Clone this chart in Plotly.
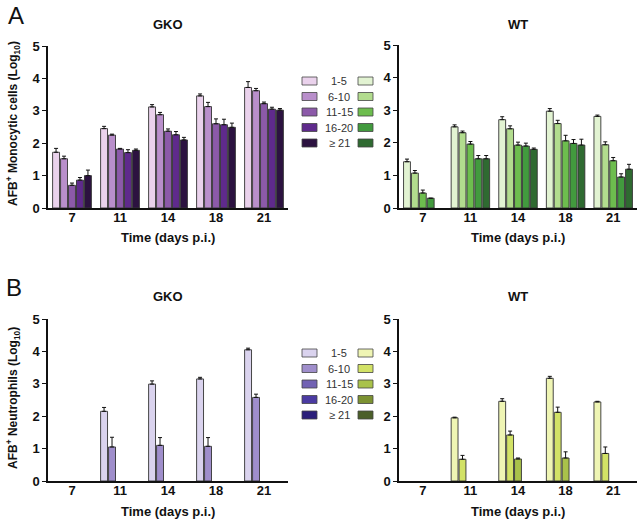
import plotly.graph_objects as go

# Categories and groups
days = ["7", "11", "14", "18", "21"]
groups = ["1-5", "6-10", "11-15", "16-20", "≥ 21"]

# Panel A: AFB+ monocytic cells (Log10)
a_gko = {
    "1-5":   [1.72, 2.45, 3.12, 3.46, 3.72],
    "6-10":  [1.52, 2.25, 2.88, 3.13, 3.62],
    "11-15": [0.70, 1.82, 2.37, 2.60, 3.22],
    "16-20": [0.86, 1.71, 2.26, 2.57, 3.05],
    "≥ 21":  [1.00, 1.78, 2.10, 2.49, 3.02],
}
a_gko_err = {
    "1-5":   [0.12, 0.07, 0.07, 0.06, 0.18],
    "6-10":  [0.08, 0.03, 0.07, 0.13, 0.07],
    "11-15": [0.07, 0.02, 0.07, 0.15, 0.05],
    "16-20": [0.08, 0.09, 0.10, 0.17, 0.06],
    "≥ 21":  [0.17, 0.04, 0.08, 0.13, 0.05],
}
a_wt = {
    "1-5":   [1.42, 2.49, 2.71, 2.97, 2.81],
    "6-10":  [1.07, 2.31, 2.43, 2.59, 1.94],
    "11-15": [0.46, 1.96, 1.93, 2.06, 1.45],
    "16-20": [0.30, 1.51, 1.90, 1.98, 0.95],
    "≥ 21":  [None, 1.51, 1.80, 1.93, 1.19],
}
a_wt_err = {
    "1-5":   [0.08, 0.06, 0.09, 0.08, 0.04],
    "6-10":  [0.08, 0.05, 0.09, 0.10, 0.09],
    "11-15": [0.09, 0.08, 0.09, 0.17, 0.10],
    "16-20": [0.00, 0.10, 0.09, 0.12, 0.10],
    "≥ 21":  [0.00, 0.10, 0.04, 0.18, 0.15],
}

# Panel B: AFB+ neutrophils (Log10)
b_gko = {
    "1-5":   [None, 2.15, 2.99, 3.15, 4.05],
    "6-10":  [None, 1.05, 1.10, 1.07, 2.58],
    "11-15": [None, None, None, None, None],
    "16-20": [None, None, None, None, None],
    "≥ 21":  [None, None, None, None, None],
}
b_gko_err = {
    "1-5":   [0, 0.12, 0.10, 0.05, 0.05],
    "6-10":  [0, 0.30, 0.24, 0.27, 0.10],
    "11-15": [0, 0, 0, 0, 0],
    "16-20": [0, 0, 0, 0, 0],
    "≥ 21":  [0, 0, 0, 0, 0],
}
b_wt = {
    "1-5":   [None, 1.95, 2.46, 3.17, 2.44],
    "6-10":  [None, 0.67, 1.42, 2.12, 0.85],
    "11-15": [None, None, 0.68, 0.71, None],
    "16-20": [None, None, None, None, None],
    "≥ 21":  [None, None, None, None, None],
}
b_wt_err = {
    "1-5":   [0, 0.02, 0.08, 0.06, 0.02],
    "6-10":  [0, 0.12, 0.12, 0.16, 0.20],
    "11-15": [0, 0, 0.03, 0.19, 0],
    "16-20": [0, 0, 0, 0, 0],
    "≥ 21":  [0, 0, 0, 0, 0],
}

purple_a = ["#ead2ec", "#b98fcb", "#8c5aa9", "#5f2a8c", "#2c1240"]
green_a = ["#e2f3d2", "#b2dc8e", "#6dbd4e", "#429a3e", "#2f6a31"]
purple_b = ["#dad3ee", "#9f8ecb", "#7262b3", "#4b3ba2", "#2b1f7a"]
green_b = ["#eff5b4", "#d2e266", "#a9c24a", "#7c9232", "#4b5f29"]

W, H = 642, 523
FONT = "Arial, Liberation Sans, sans-serif"
INK = "#111111"


def px_x(v):
    return v / W


def px_y(v):
    return 1 - v / H


fig = go.Figure()

panels = [
    (a_gko, a_gko_err, purple_a, "x", "y"),
    (a_wt, a_wt_err, green_a, "x2", "y2"),
    (b_gko, b_gko_err, purple_b, "x3", "y3"),
    (b_wt, b_wt_err, green_b, "x4", "y4"),
]
for vals, errs, colors, xa, ya in panels:
    for g, c in zip(groups, colors):
        fig.add_trace(go.Bar(
            x=days, y=vals[g], name=g, xaxis=xa, yaxis=ya, showlegend=False,
            marker=dict(color=c, line=dict(color="#333333", width=0.9)),
            error_y=dict(type="data", array=errs[g], arrayminus=[0] * len(days),
                         symmetric=False, color=INK, thickness=1, width=2),
        ))

# axis domains (pixel-measured)
doms = {
    "": ((48, 288), (208, 46)),
    "2": ((399, 637), (208, 45)),
    "3": ((48, 288), (481, 319)),
    "4": ((399, 637), (481, 319)),
}
layout_axes = {}
for k, ((x0, x1), (yb, yt)) in doms.items():
    layout_axes["xaxis" + k] = dict(
        domain=[px_x(x0), px_x(x1)], type="category", categoryorder="array",
        categoryarray=days, range=[-0.5, 4.5], showline=True, linecolor=INK,
        linewidth=1.5, ticks="", ticklen=0, ticklabelstandoff=-3,
        showgrid=False, zeroline=False,
        tickfont=dict(family=FONT, size=13, color=INK, weight="bold"),
        anchor="y" + k, fixedrange=True,
    )
    layout_axes["yaxis" + k] = dict(
        domain=[px_y(yb), px_y(yt)], range=[0, 5], tickvals=[0, 1, 2, 3, 4, 5],
        showline=True, linecolor=INK, linewidth=1.5, ticks="outside", ticklen=4,
        tickwidth=1.2, tickcolor=INK, showgrid=False, zeroline=False,
        tickfont=dict(family=FONT, size=13, color=INK, weight="bold"),
        anchor="x" + k, fixedrange=True,
    )

fig.update_layout(
    template="none",
    width=W, height=H, margin=dict(l=0, r=0, t=0, b=0),
    paper_bgcolor="white", plot_bgcolor="white",
    barmode="group", bargap=0.17, bargroupgap=0.13,
    font=dict(family=FONT, color=INK),
    **layout_axes,
)

annotations = []


def text(x, y, s, size=13, bold=True, angle=0, color=INK, xanchor="center"):
    annotations.append(dict(
        x=px_x(x), y=px_y(y), xref="paper", yref="paper", text=s, showarrow=False,
        textangle=angle, xanchor=xanchor, yanchor="middle",
        font=dict(family=FONT, size=size, color=color, weight="bold" if bold else "normal"),
    ))


text(16, 16, "A", size=24, bold=False)
text(14, 287, "B", size=24, bold=False)
text(168, 24, "GKO")
text(518, 24, "WT")
text(168, 296, "GKO")
text(518, 296, "WT")
text(168, 238, "Time (days p.i.)")
text(518, 238, "Time (days p.i.)")
text(168, 511, "Time (days p.i.)")
text(518, 511, "Time (days p.i.)")
text(13, 124, "AFB<sup>+</sup> Monocytic cells (Log<sub>10</sub>)", size=12, angle=-90)
text(13, 398, "AFB<sup>+</sup> Neutrophils (Log<sub>10</sub>)", size=12, angle=-90)

# legends: two swatch columns sharing centred labels
shapes = []
for rows_y, left_cols, right_cols in [
    ([81, 96.5, 112, 127.5, 143], purple_a, green_a),
    ([353, 368.5, 384, 399.5, 415], purple_b, green_b),
]:
    for ry, g, lc, rc in zip(rows_y, groups, left_cols, right_cols):
        for (sx0, sx1), col in [((302, 317), lc), ((358, 373), rc)]:
            shapes.append(dict(
                type="rect", xref="paper", yref="paper",
                x0=px_x(sx0), x1=px_x(sx1), y0=px_y(ry + 4), y1=px_y(ry - 4),
                fillcolor=col, line=dict(color="#444444", width=0.8),
            ))
        text(339, ry, g, size=11, bold=False, color="#333333")

fig.update_layout(annotations=annotations, shapes=shapes)

fig.write_html(
    "out.html",
    config={"displayModeBar": False},
    post_script="document.body.style.margin='0';document.body.style.overflow='hidden';",
)
